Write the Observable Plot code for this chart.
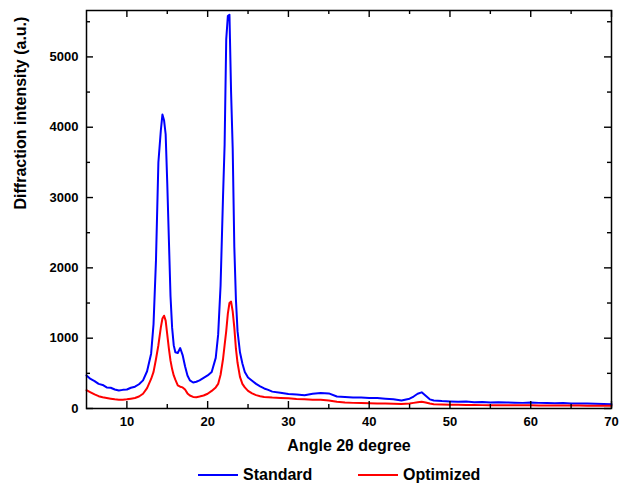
<!DOCTYPE html>
<html>
<head>
<meta charset="utf-8">
<script src="https://cdn.jsdelivr.net/npm/d3@7"></script>
<script src="https://cdn.jsdelivr.net/npm/@observablehq/plot@0.6"></script>
<style>
  body { margin: 0; background: #fff; }
  #wrap { width: 623px; font-family: "Liberation Sans", Arial, sans-serif; font-weight: bold; }
  #legend { position: relative; width: 623px; height: 28px; font-size: 16px; }
  .sw { position: absolute; top: 19px; width: 40px; height: 0; border-top: 2px solid; }
  .lb { position: absolute; top: 11px; line-height: 18px; color: #000; }
</style>
</head>
<body>
<div id="wrap"></div>
<script>
const angles = [5,5.5,6,6.5,7,7.5,8,8.5,9,9.5,10,10.5,11,11.5,12,12.5,13,13.3,13.6,13.9,14.2,14.4,14.6,14.8,15.0,15.2,15.4,15.6,15.8,16.0,16.3,16.6,16.9,17.2,17.5,17.8,18.2,18.6,19,19.5,20,20.5,21,21.3,21.6,21.9,22.1,22.3,22.5,22.7,22.9,23.1,23.3,23.5,23.7,24,24.3,24.6,25,25.5,26,26.5,27,27.5,28,29,30,31,32,33,34,35,36,37,38,39,40,41,42,43,44,45,45.5,46,46.5,47,47.5,48,49,50,51,52,53,54,55,56,57,58,59,60,61,62,63,64,65,66,67,68,69,70];
const standard = [470,420,390,350,335,300,295,270,255,265,270,295,310,345,400,530,780,1200,2100,3500,3950,4180,4100,3900,3200,2400,1600,1150,900,800,790,860,760,600,470,400,370,380,400,435,470,520,720,1050,1750,3000,3750,5250,5580,5600,4500,3700,2300,1550,1100,800,640,520,440,395,350,315,285,265,240,225,205,200,190,210,220,215,170,165,155,155,150,150,140,130,115,140,170,210,230,180,130,115,105,100,95,98,90,92,85,88,85,82,80,84,80,78,75,78,72,70,72,68,65,62];
const optimized = [260,230,200,175,160,150,140,130,125,125,130,140,150,170,210,290,420,520,700,900,1150,1280,1320,1250,1050,850,680,560,470,410,330,310,300,270,215,185,165,160,170,185,210,250,300,350,480,700,900,1100,1350,1500,1520,1380,1150,850,650,450,350,300,250,215,190,175,165,160,155,150,145,135,130,125,125,115,95,85,80,78,75,72,70,68,65,70,80,90,95,85,70,62,58,55,52,50,50,48,48,47,46,45,45,45,44,43,43,42,42,41,40,40,39,38];
const seriesNames = ["Standard", "Optimized"];
const seriesColors = ["#0000ff", "#ff0000"];
const xMajor = [10,20,30,40,50,60,70];
const xMinor = [15,25,35,45,55,65];
const yMajor = [0,1000,2000,3000,4000,5000];
const yMinor = [500,1500,2500,3500,4500,5500];
const xTitle = "Angle 2θ degree";
const yTitle = "Diffraction intensity (a.u.)";

const rows = [];
angles.forEach((a, i) => {
  rows.push({angle: a, value: standard[i], series: seriesNames[0]});
  rows.push({angle: a, value: optimized[i], series: seriesNames[1]});
});

const W = 623, H = 455, mL = 86, mR = 12, mT = 10, mB = 47;
const fw = W - mL - mR, fh = H - mT - mB;
const major = 7, minor = 4;

const chart = Plot.plot({
  width: W,
  height: H,
  marginLeft: mL,
  marginRight: mR,
  marginTop: mT,
  marginBottom: mB,
  style: {fontFamily: "'Liberation Sans', Arial, sans-serif", fontWeight: "bold", fontSize: "13px", color: "#000", background: "#fff"},
  x: {domain: [5, 70]},
  y: {domain: [0, 5660]},
  color: {domain: seriesNames, range: seriesColors},
  marks: [
    Plot.line(rows, {x: "angle", y: "value", z: "series", stroke: "series", strokeWidth: 2}),
    Plot.ruleX(xMajor, {x: d => d, insetTop: fh - major, stroke: "#000", strokeWidth: 1.4}),
    Plot.ruleX(xMinor, {x: d => d, insetTop: fh - minor, stroke: "#000", strokeWidth: 1.4}),
    Plot.ruleX(xMajor, {x: d => d, insetBottom: fh - major, stroke: "#000", strokeWidth: 1.4}),
    Plot.ruleX(xMinor, {x: d => d, insetBottom: fh - minor, stroke: "#000", strokeWidth: 1.4}),
    Plot.ruleY(yMajor, {y: d => d, insetRight: fw - major, stroke: "#000", strokeWidth: 1.4}),
    Plot.ruleY(yMinor, {y: d => d, insetRight: fw - minor, stroke: "#000", strokeWidth: 1.4}),
    Plot.ruleY(yMajor, {y: d => d, insetLeft: fw - major, stroke: "#000", strokeWidth: 1.4}),
    Plot.ruleY(yMinor, {y: d => d, insetLeft: fw - minor, stroke: "#000", strokeWidth: 1.4}),
    Plot.axisX({anchor: "bottom", ticks: xMajor, tickSize: 0, tickPadding: 8, label: null, fontSize: 13}),
    Plot.axisY({anchor: "left", ticks: yMajor, tickSize: 0, tickPadding: 8, tickFormat: d3.format("d"), label: null, fontSize: 13}),
    Plot.frame({stroke: "#000", strokeWidth: 1.5}),
    Plot.text([xTitle], {frameAnchor: "bottom", dy: 37, text: d => d, fontSize: 16, fontWeight: "bold", lineAnchor: "middle"}),
    Plot.text([yTitle], {frameAnchor: "left", dx: -66, text: d => d, fontSize: 16, fontWeight: "bold", rotate: -90, lineAnchor: "middle"})
  ]
});

const wrap = document.getElementById("wrap");
wrap.appendChild(chart);

const legend = document.createElement("div");
legend.id = "legend";
const legendPos = [[198, 243], [358, 403]];
seriesNames.forEach((name, i) => {
  const sw = document.createElement("div");
  sw.className = "sw";
  sw.style.left = legendPos[i][0] + "px";
  sw.style.borderTopColor = seriesColors[i];
  legend.appendChild(sw);
  const lb = document.createElement("div");
  lb.className = "lb";
  lb.style.left = legendPos[i][1] + "px";
  lb.textContent = name;
  legend.appendChild(lb);
});
wrap.appendChild(legend);
</script>
</body>
</html>
